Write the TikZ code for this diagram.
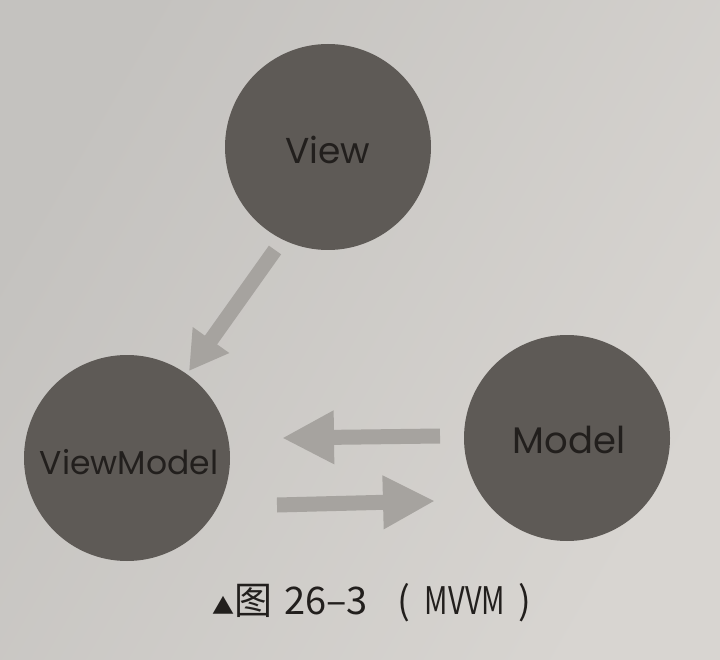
\documentclass[tikz,border=0pt]{standalone}
\usepackage{fontspec}
\setmainfont{Poppins}
\newfontfamily\cjk{Noto Sans CJK SC}
\usetikzlibrary{arrows.meta}
\definecolor{paper}{RGB}{216,213,209}
\definecolor{paperdark}{RGB}{196,194,191}
\definecolor{blob}{RGB}{94,90,86}
\definecolor{arrowgray}{RGB}{166,163,159}
\definecolor{ink}{RGB}{34,31,29}
\tikzset{
  bubble/.style={circle, fill=blob, minimum size=206pt, inner sep=0pt, text=ink},
  blockarrow/.style={draw=arrowgray, line width=15pt, -{Triangle[width=50pt,length=52pt]}},
  blockarrowd/.style={draw=arrowgray, line width=15pt, -{Triangle[width=42pt,length=38pt]}},
  caption/.style={text=ink, font=\cjk\fontsize{38}{44}\selectfont}
}
\begin{document}
\begin{tikzpicture}[x=1pt,y=-1pt]
\useasboundingbox (0,0) rectangle (720,660);
\shade[left color=paperdark, right color=paper, shading angle=60] (0,0) rectangle (720,660);
\node[bubble] (view) at (328,147) {};
\node[bubble] (vm) at (127,458) {};
\node[bubble] (model) at (567,438) {};
\node[text=ink, font=\fontsize{36}{40}\selectfont] (viewt) at (328,150) {View};
\node[text=ink, font=\fontsize{33}{38}\selectfont] (vmt) at (129,462) {ViewModel};
\node[text=ink, font=\fontsize{37}{42}\selectfont] (modelt) at (569,440) {Model};
\coordinate (a1) at (275,250);
\coordinate (a2) at (189,371);
\coordinate (b1) at (440,436);
\coordinate (b2) at (282,438);
\coordinate (c1) at (277,505);
\coordinate (c2) at (435,501);
\draw[blockarrowd] (a1) -- (a2);
\draw[blockarrow] (b1) -- (b2);
\draw[blockarrow] (c1) -- (c2);
\node[caption, anchor=base west, inner sep=0pt] (cap) at (212,614) {{\fontsize{22}{26}\selectfont ▲}图\hspace{12pt}26–3\hspace{30pt}(\hspace{14pt}\scalebox{0.76}[1]{MVVM}\hspace{13pt})};
\end{tikzpicture}
\end{document}
